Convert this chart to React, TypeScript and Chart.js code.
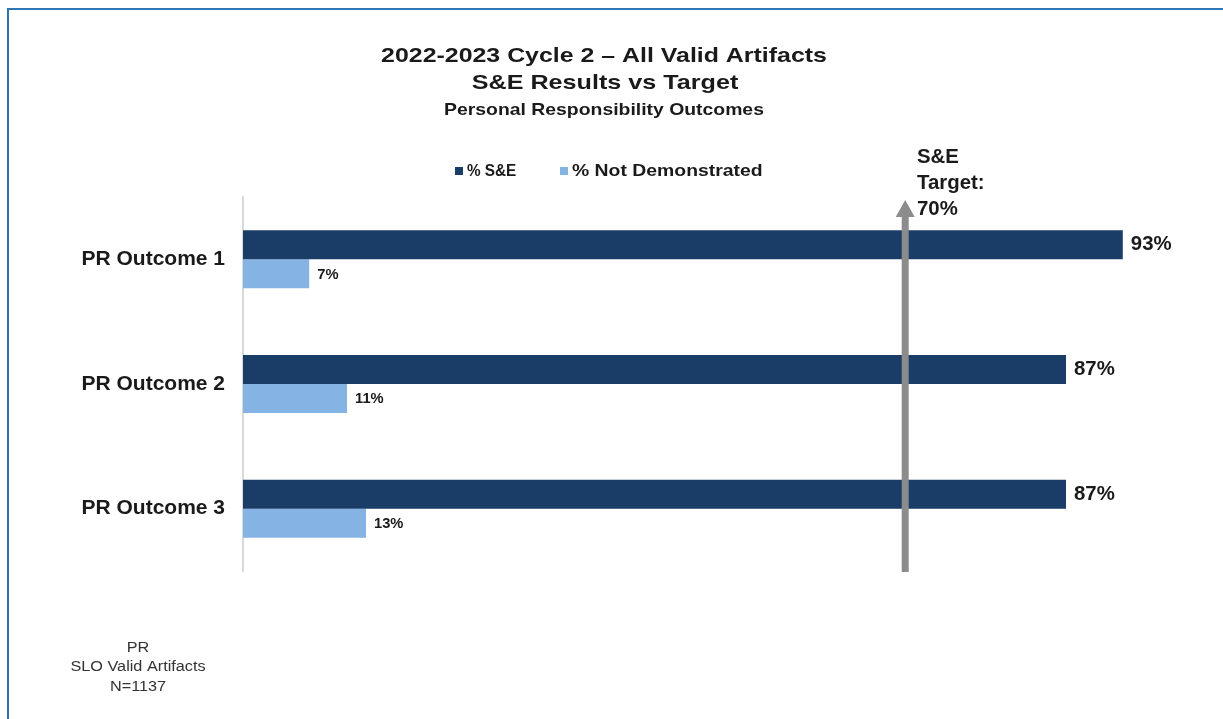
import React, { useEffect, useRef } from "react";
import { Chart, registerables } from "chart.js";

Chart.register(...registerables);

const categories = ["PR Outcome 1", "PR Outcome 2", "PR Outcome 3"];
const seriesNames = ["% S&E", "% Not Demonstrated"];
const seValues = [93, 87, 87];
const notDemoValues = [7, 11, 13];
const targetValue = 70;
const titleLines = ["2022-2023 Cycle 2 \u2013 All Valid Artifacts", "S&E Results vs Target"];
const subtitleText = "Personal Responsibility Outcomes";
const targetLabelLines = ["S&E", "Target:", "70%"];
const footnoteLines = ["PR", "SLO Valid Artifacts", "N=1137"];

const DARK = "#1A3D67";
const LIGHT = "#85B3E3";
const FONT = "'Liberation Sans', Arial, sans-serif";
const TEXT = "#1a1a1a";

function drawText(ctx: any, text: string, x: number, y: number, align: string, sx: number) {
  ctx.save();
  ctx.translate(x, y);
  ctx.scale(sx, 1);
  ctx.textAlign = align;
  ctx.fillText(text, 0, 0);
  ctx.restore();
}

const overlayPlugin = {
  id: "overlay",
  beforeDraw(chart: any) {
    const ctx = chart.ctx;
    ctx.save();
    ctx.fillStyle = "#ffffff";
    ctx.fillRect(0, 0, chart.width, chart.height);
    ctx.strokeStyle = "#2E75B6";
    ctx.lineWidth = 2;
    ctx.beginPath();
    ctx.moveTo(8, chart.height + 5);
    ctx.lineTo(8, 9);
    ctx.lineTo(chart.width + 5, 9);
    ctx.stroke();
    ctx.restore();
  },
  afterDraw(chart: any) {
    const ctx = chart.ctx;
    const area = chart.chartArea;
    const xs = chart.scales.x;
    ctx.save();
    ctx.fillStyle = TEXT;
    ctx.textBaseline = "middle";
    ctx.font = `bold 21px ${FONT}`;
    drawText(ctx, titleLines[0], 604, 56, "center", 1.186);
    drawText(ctx, titleLines[1], 605, 83, "center", 1.198);
    ctx.font = `bold 17px ${FONT}`;
    drawText(ctx, subtitleText, 604, 110, "center", 1.14);

    ctx.font = `bold 17px ${FONT}`;
    const legendItems = [
      { x: 455, color: DARK, text: seriesNames[0], sx: 0.9 },
      { x: 560, color: LIGHT, text: seriesNames[1], sx: 1.14 },
    ];
    legendItems.forEach((it) => {
      ctx.fillStyle = it.color;
      ctx.fillRect(it.x, 167, 8, 8);
      ctx.fillStyle = TEXT;
      drawText(ctx, it.text, it.x + 12, 171, "left", it.sx);
    });

    chart.data.datasets.forEach((ds: any, di: number) => {
      const meta = chart.getDatasetMeta(di);
      ctx.font = di === 0 ? `bold 20px ${FONT}` : `bold 14px ${FONT}`;
      meta.data.forEach((bar: any, i: number) => {
        drawText(ctx, ds.data[i] + "%", bar.x + 8, bar.y + (di === 0 ? 0 : 1), "left", di === 0 ? 1.02 : 1.05);
      });
    });

    const tx = xs.getPixelForValue(targetValue);
    ctx.fillStyle = "#8C8C8C";
    ctx.fillRect(tx - 3.5, 216, 7, area.bottom + 1 - 216);
    ctx.beginPath();
    ctx.moveTo(tx, 200);
    ctx.lineTo(tx + 9.5, 217);
    ctx.lineTo(tx - 9.5, 217);
    ctx.closePath();
    ctx.fill();

    ctx.fillStyle = TEXT;
    ctx.font = `bold 20px ${FONT}`;
    targetLabelLines.forEach((t, i) => {
      drawText(ctx, t, 917, 157 + i * 26, "left", 1.02);
    });

    ctx.fillStyle = "#333333";
    ctx.font = `14px ${FONT}`;
    footnoteLines.forEach((t, i) => {
      drawText(ctx, t, 138, 648 + i * 19.5, "center", 1.16);
    });
    ctx.restore();
  },
};

export default function App() {
  const ref = useRef<HTMLCanvasElement>(null);
  useEffect(() => {
    let chart: any = null;
    let cancelled = false;
    const loads = [
      "bold 16px 'Liberation Sans'",
      "16px 'Liberation Sans'",
    ].map((f) => (document as any).fonts.load(f).catch(() => null));
    Promise.all(loads).then(() => {
      if (cancelled || !ref.current) return;
      chart = new Chart(ref.current, {
        type: "bar",
        data: {
          labels: categories,
          datasets: [
            {
              label: seriesNames[0],
              data: seValues,
              backgroundColor: DARK,
              categoryPercentage: 0.465,
              barPercentage: 1,
            },
            {
              label: seriesNames[1],
              data: notDemoValues,
              backgroundColor: LIGHT,
              categoryPercentage: 0.465,
              barPercentage: 1,
            },
          ],
        },
        options: {
          indexAxis: "y",
          responsive: false,
          animation: false,
          devicePixelRatio: 1,
          layout: { padding: { top: 197, bottom: 148, left: 0, right: 34 } },
          plugins: {
            legend: { display: false },
            title: { display: false },
            tooltip: { enabled: false },
          },
          scales: {
            x: { min: 0, max: 100, display: false },
            y: {
              afterFit: (s: any) => {
                s.width = 243;
              },
              ticks: {
                color: TEXT,
                font: { family: FONT, size: 21, weight: "bold" },
                padding: 18,
              },
              grid: { display: true, drawOnChartArea: false, drawTicks: false, color: "rgba(0,0,0,0)" },
              border: { display: true, color: "#D9D9D9", width: 2 },
            },
          },
        } as any,
        plugins: [overlayPlugin],
      });
    });
    return () => {
      cancelled = true;
      if (chart) chart.destroy();
    };
  }, []);
  return (
    <div style={{ position: "absolute", left: 0, top: 0, width: 1223, height: 719 }}>
      <canvas ref={ref} width={1223} height={719} style={{ width: 1223, height: 719, display: "block" }} />
    </div>
  );
}
